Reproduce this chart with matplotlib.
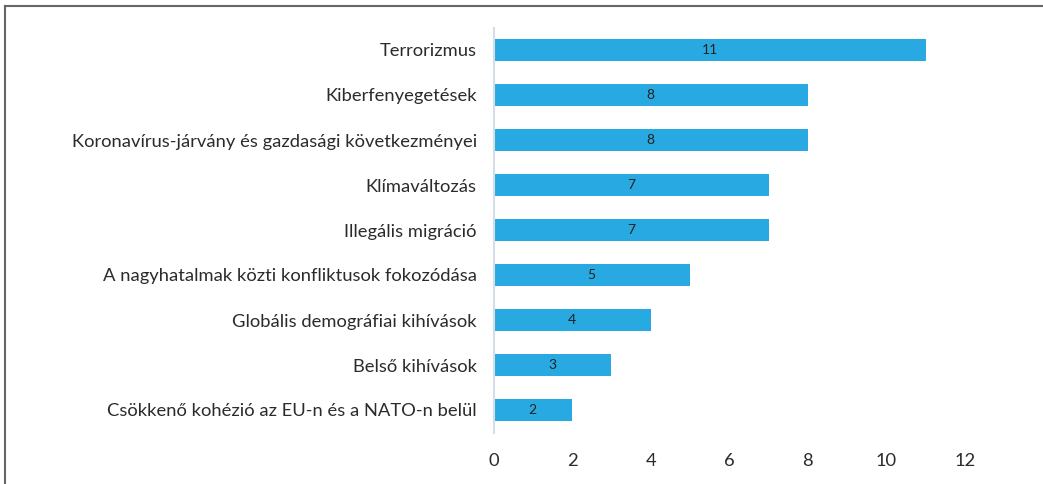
import matplotlib.pyplot as plt
from matplotlib.lines import Line2D

categories = [
    'Terrorizmus',
    'Kiberfenyegetések',
    'Koronavírus-járvány és gazdasági következményei',
    'Klímaváltozás',
    'Illegális migráció',
    'A nagyhatalmak közti konfliktusok fokozódása',
    'Globális demográfiai kihívások',
    'Belső kihívások',
    'Csökkenő kohézió az EU-n és a NATO-n belül',
]
values = [11, 8, 8, 7, 7, 5, 4, 3, 2]
xticks = [0, 2, 4, 6, 8, 10, 12]

plt.rcParams['font.family'] = ['Lato', 'DejaVu Sans']

W, H = 1043, 484
fig = plt.figure(figsize=(W / 100, H / 100), dpi=100)
ax = fig.add_axes([493.5 / W, 1 - 432.5 / H, (965 - 493.5) / W, (432.5 - 27.5) / H])

pos = list(range(len(categories)))[::-1]
bars = ax.barh(pos, values, height=0.51, color='#29A9E1')
for b, v in zip(bars, values):
    ax.text(b.get_width() / 2, b.get_y() + b.get_height() / 2, str(v),
            ha='center', va='center', fontsize=10, color='#222222')

ax.set_yticks(pos)
ax.set_yticklabels(categories, fontsize=13.2, color='#2b2b2b')
ax.set_xticks(xticks)
ax.set_xticklabels([str(t) for t in xticks], fontsize=13.2, color='#2b2b2b')
ax.set_xlim(0, 12)
ax.set_ylim(-0.5, len(categories) - 0.5)
ax.tick_params(axis='both', length=0)
ax.tick_params(axis='x', pad=15)
ax.tick_params(axis='y', pad=12)
for s in ['top', 'right', 'bottom']:
    ax.spines[s].set_visible(False)
ax.spines['left'].set_color('#D3DEE6')
ax.spines['left'].set_linewidth(1.5)

# frame around the figure (top and left only visible)
fig.add_artist(Line2D([4.5 / W, 1], [1 - 5.5 / H, 1 - 5.5 / H], color='#666666', lw=1.5))
fig.add_artist(Line2D([4.5 / W, 4.5 / W], [0, 1 - 5.5 / H], color='#666666', lw=1.5))

fig.savefig('out.png', dpi=100)
